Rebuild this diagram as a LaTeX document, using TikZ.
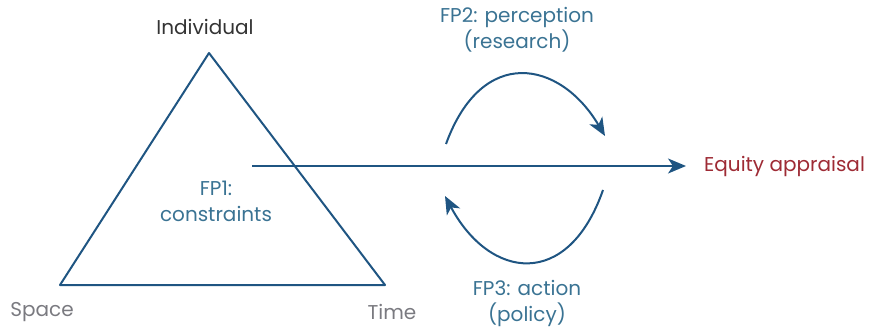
\documentclass[tikz,border=0pt]{standalone}
\usepackage{fontspec}
\setmainfont{Poppins}
\usetikzlibrary{arrows.meta}
\definecolor{lineblue}{HTML}{1F5582}
\definecolor{fpblue}{HTML}{3A7393}
\definecolor{eqred}{HTML}{9E2B35}
\definecolor{labgray}{HTML}{7A7A80}
\definecolor{topgray}{HTML}{333333}
\tikzset{
  conn/.style={draw=lineblue, line width=2pt},
  arr/.style={conn, -{Stealth[length=18pt,width=15pt,inset=5pt]}},
  lbl/.style={font=\fontsize{20}{26}\selectfont, inner sep=0pt, align=center},
}
\begin{document}
\begin{tikzpicture}[x=1pt,y=-1pt]
\useasboundingbox (0,0) rectangle (874,331);
\coordinate (apex) at (209,53);
\coordinate (bl) at (60,285);
\coordinate (br) at (385,285);
\draw[conn, line join=round] (apex) -- (bl) -- (br) -- cycle;
\node[lbl, text=topgray] (ind) at (205,27) {Individual};
\node[lbl, text=labgray] (sp) at (42,312) {Space};
\node[lbl, text=labgray] (tm) at (392,312) {Time};
\node[lbl, text=fpblue] (fp1) at (216,201) {FP1:\\constraints};
\node[lbl, text=eqred, anchor=west] (eq) at (704,166) {Equity appraisal};
\coordinate (ls) at (252,166);
\coordinate (le) at (686,166);
\draw[arr] (ls) -- (le);
\node[lbl, text=fpblue] (fp2) at (517,30) {FP2: perception\\(research)};
\node[lbl, text=fpblue] (fp3) at (527,303) {FP3: action\\(policy)};
\coordinate (a1) at (446,144);
\coordinate (a2) at (605,136);
\coordinate (b1) at (603,190);
\coordinate (b2) at (445,196);
\draw[arr] (a1) .. controls (482,45) and (560,60) .. (a2);
\draw[arr] (b1) .. controls (568,290) and (490,280) .. (b2);
\end{tikzpicture}
\end{document}
